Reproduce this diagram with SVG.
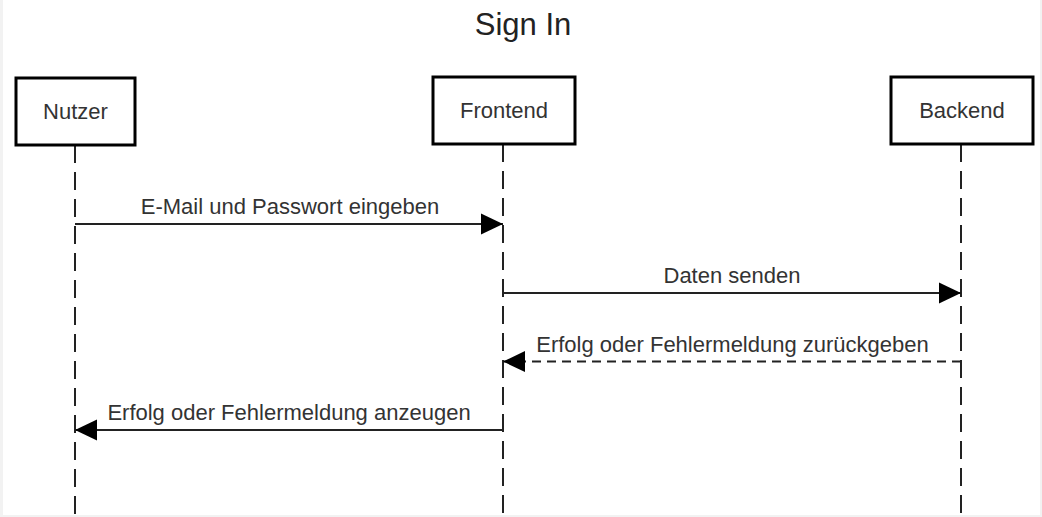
<svg xmlns="http://www.w3.org/2000/svg" width="1042" height="517" viewBox="0 0 1042 517">
  <style>
    .box { fill: #ffffff; stroke: #000000; stroke-width: 3; }
    .lbl { font-family: "Liberation Sans", Arial, Helvetica, sans-serif; font-size: 22px; fill: #333333; text-anchor: middle; }
    .title { font-family: "Liberation Sans", Arial, Helvetica, sans-serif; font-size: 31px; fill: #222222; text-anchor: middle; }
    .life { stroke: #222222; stroke-width: 2; stroke-dasharray: 18 9; fill: none; }
    .msg { stroke: #222222; stroke-width: 2; fill: none; }
    .ret { stroke: #222222; stroke-width: 2; stroke-dasharray: 9 6; fill: none; }
  </style>
  <defs>
    <marker id="arrow" markerUnits="userSpaceOnUse" markerWidth="22" markerHeight="22" viewBox="0 0 20 20" refX="20" refY="10" orient="auto">
      <path d="M0,0.5 L20,10 L0,19.5 z" fill="#000000"/>
    </marker>
  </defs>
  <rect x="0" y="0" width="1042" height="517" fill="#f2f2f2"/>
  <rect x="3" y="0" width="1037" height="515" fill="#ffffff"/>

  <text class="title" x="523" y="35">Sign In</text>

  <g id="lifelines">
    <line class="life" x1="75" y1="145" x2="75" y2="515"/>
    <line class="life" x1="503" y1="144" x2="503" y2="515"/>
    <line class="life" x1="961" y1="144" x2="961" y2="515"/>
  </g>

  <g id="node-nutzer">
    <rect class="box" x="16" y="78" width="119" height="67"/>
    <text class="lbl" x="75.5" y="118.5">Nutzer</text>
  </g>
  <g id="node-frontend">
    <rect class="box" x="433" y="77" width="142" height="67"/>
    <text class="lbl" x="504" y="118">Frontend</text>
  </g>
  <g id="node-backend">
    <rect class="box" x="891" y="77" width="142" height="67"/>
    <text class="lbl" x="962" y="118">Backend</text>
  </g>

  <g id="connectors">
    <line class="msg" x1="75" y1="224" x2="503" y2="224" marker-end="url(#arrow)"/>
    <text class="lbl" x="290" y="214">E-Mail und Passwort eingeben</text>

    <line class="msg" x1="503" y1="293" x2="961" y2="293" marker-end="url(#arrow)"/>
    <text class="lbl" x="732" y="283">Daten senden</text>

    <line class="ret" x1="961" y1="361.5" x2="503" y2="361.5" marker-end="url(#arrow)"/>
    <text class="lbl" x="732.5" y="352">Erfolg oder Fehlermeldung zurückgeben</text>

    <line class="msg" x1="503" y1="430" x2="75" y2="430" marker-end="url(#arrow)"/>
    <text class="lbl" x="289" y="420">Erfolg oder Fehlermeldung anzeugen</text>
  </g>
</svg>
